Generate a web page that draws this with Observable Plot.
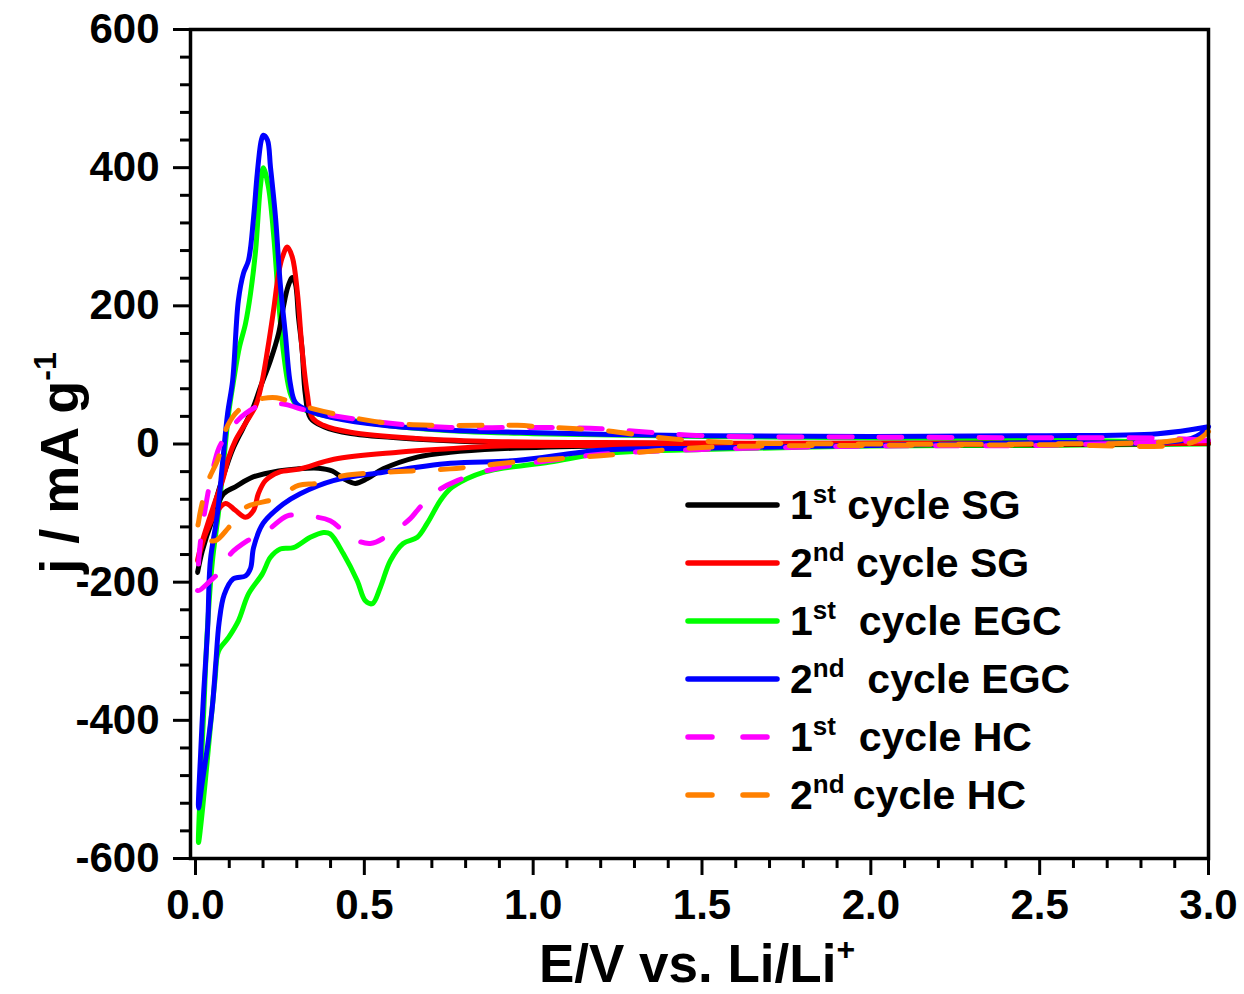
<!DOCTYPE html>
<html><head><meta charset="utf-8">
<script src="https://cdn.jsdelivr.net/npm/d3@7"></script>
<script src="https://cdn.jsdelivr.net/npm/@observablehq/plot@0.6"></script>
<style>
body{margin:0;background:#fff;}
#chart{position:relative;width:1244px;height:994px;font-family:"Liberation Sans",Arial,sans-serif;font-weight:bold;color:#000;}
#legend{position:absolute;left:685px;top:476px;}
.row{height:58px;display:flex;align-items:center;}
.row svg{width:95px;height:10px;margin-right:10px;flex:none;overflow:visible;}
.row .txt{white-space:pre;font-size:41px;line-height:58px;}
.row .sup{font-size:26px;line-height:0;vertical-align:16px;}
</style></head>
<body><div id="chart"></div>
<script>
// Cyclic voltammograms: [E (V vs Li/Li+), j (mA/g)], cathodic sweep 3.0 -> 0, then anodic 0 -> 3.0
const sg1 = [[3.0,1],[2.5,-1],[2.0,-1],[1.5,-2],[1.2,-3],[0.9,-7],[0.754,-12],[0.657,-19],[0.556,-36],[0.509,-50],[0.473,-57],[0.438,-50],[0.405,-39],[0.364,-35],[0.3,-36],[0.246,-39],[0.169,-48],[0.118,-62],[0.083,-72],[0.05,-110],[0.02,-155],[0.006,-186],
  [0.015,-165],[0.03,-135],[0.05,-100],[0.07,-65],[0.09,-35],[0.11,-8],[0.14,22],[0.17,52],[0.192,82],[0.222,121],[0.246,160],[0.26,198],[0.274,228],[0.287,241],[0.296,232],[0.305,184],[0.316,135],[0.325,73],[0.34,38],[0.38,25],[0.46,15],[0.66,7],[0.85,3],[1.2,1],[2.0,1],[2.5,1],[3.0,1]];
const sg2 = [[3.0,1],[2.5,0],[2.0,-1],[1.5,-1],[1.2,-2],[0.9,-3],[0.75,-7],[0.6,-12],[0.41,-22],[0.31,-36],[0.246,-41],[0.207,-53],[0.186,-72],[0.172,-96],[0.148,-106],[0.118,-96],[0.089,-86],[0.06,-100],[0.03,-130],[0.006,-169],
  [0.015,-150],[0.03,-125],[0.059,-82],[0.08,-53],[0.098,-20],[0.118,5],[0.148,30],[0.178,55],[0.195,85],[0.213,135],[0.231,193],[0.246,247],[0.257,270],[0.272,285],[0.287,270],[0.302,218],[0.316,135],[0.331,73],[0.346,38],[0.379,27],[0.459,17],[0.657,8],[0.852,4],[1.2,2],[2.0,1],[2.5,1],[3.0,1]];
const egc1 = [[3.0,0],[2.5,-2],[2.0,-3],[1.5,-8],[1.2,-14],[1.05,-26],[0.9,-36],[0.852,-41],[0.805,-50],[0.754,-65],[0.725,-82],[0.686,-115],[0.657,-135],[0.615,-144],[0.577,-169],[0.547,-208],[0.524,-231],[0.503,-227],[0.479,-198],[0.438,-159],[0.399,-130],[0.379,-128],[0.34,-135],[0.29,-150],[0.251,-152],[0.222,-164],[0.198,-188],[0.157,-217],[0.127,-256],[0.098,-280],[0.068,-300],[0.058,-340],[0.044,-410],[0.03,-483],[0.015,-555],[0.009,-577],
  [0.016,-480],[0.025,-380],[0.035,-270],[0.05,-170],[0.068,-100],[0.083,-28],[0.098,44],[0.113,92],[0.13,140],[0.148,174],[0.163,218],[0.178,280],[0.192,372],[0.201,400],[0.216,372],[0.231,305],[0.246,208],[0.26,135],[0.281,73],[0.3,56],[0.35,45],[0.45,35],[0.6,25],[0.8,18],[1.0,15],[1.5,11],[2.0,9],[2.5,7],[3.0,0]];
const egc2 = [[3.0,25],[2.95,8],[2.5,2],[2.0,-2],[1.5,-6],[1.2,-9],[0.95,-24],[0.755,-28],[0.556,-41],[0.408,-53],[0.31,-72],[0.26,-87],[0.2,-115],[0.172,-150],[0.163,-180],[0.148,-191],[0.112,-195],[0.085,-218],[0.07,-258],[0.06,-318],[0.05,-380],[0.035,-440],[0.02,-490],[0.009,-527],
  [0.016,-440],[0.024,-362],[0.036,-266],[0.044,-169],[0.065,-101],[0.08,-28],[0.095,44],[0.11,92],[0.127,208],[0.142,247],[0.157,266],[0.172,328],[0.183,392],[0.195,440],[0.201,447],[0.213,440],[0.222,401],[0.237,328],[0.251,232],[0.266,160],[0.281,87],[0.296,60],[0.331,49],[0.408,38],[0.556,27],[0.754,20],[0.953,17],[1.2,14],[1.5,12],[2.0,11],[2.5,12],[2.85,15],[3.0,25]];
const hc1 = [[3.0,5],[2.5,-2],[2.0,-3],[1.5,-8],[1.2,-15],[1.05,-24],[0.902,-34],[0.775,-53],[0.704,-72],[0.657,-96],[0.636,-108],[0.577,-130],[0.518,-144],[0.459,-135],[0.399,-111],[0.32,-104],[0.272,-104],[0.213,-125],[0.154,-140],[0.104,-159],[0.08,-180],[0.04,-200],[0.006,-212],
  [0.008,-180],[0.015,-140],[0.03,-90],[0.05,-40],[0.07,-5],[0.095,15],[0.11,26],[0.148,44],[0.192,56],[0.26,58],[0.31,51],[0.408,41],[0.556,31],[0.754,24],[1.0,24],[1.2,22],[1.5,12],[2.0,10],[2.5,9],[2.9,8],[3.0,5]];
const hc2 = [[3.0,18],[2.95,2],[2.5,-1],[2.0,-2],[1.5,-5],[1.2,-17],[0.95,-26],[0.754,-36],[0.556,-41],[0.438,-46],[0.36,-57],[0.305,-60],[0.237,-79],[0.148,-92],[0.098,-121],[0.059,-140],[0.03,-138],[0.006,-135],
  [0.01,-110],[0.02,-85],[0.038,-53],[0.068,-20],[0.089,20],[0.118,44],[0.16,60],[0.2,66],[0.24,67],[0.31,56],[0.408,44],[0.556,31],[0.704,27],[0.852,27],[0.953,27],[1.05,24],[1.2,20],[1.4,8],[1.6,2],[2.0,0],[2.5,0],[2.9,5],[3.0,18]];

const seriesData = [sg1, sg2, egc1, egc2, hc1, hc2];
const seriesColors = ["#000000", "#ff0000", "#00ff00", "#0000ff", "#ff00ff", "#ff8000"];
const seriesDash = [null, null, null, null, "23,27", "23,27"];
const legendOrdinals = ["1", "2", "1", "2", "1", "2"];
const legendSups = ["st", "nd", "st", "nd", "st", "nd"];
const legendRest = [" cycle SG", " cycle SG", "  cycle EGC", "  cycle EGC", "  cycle HC", "\u2009cycle HC"];
const drawOrder = [2, 0, 1, 3, 4, 5];

const xMajorTicks = [0, 0.5, 1.0, 1.5, 2.0, 2.5, 3.0];
const yMajorTicks = [-600, -400, -200, 0, 200, 400, 600];
const xMinorTicks = d3.range(0, 31).map(i => i / 10).filter(v => Math.round(v * 10) % 5 !== 0);
const yMinorTicks = d3.range(-600, 601, 40).filter(v => v % 200 !== 0);

const font = '"Liberation Sans", Arial, sans-serif';

const plot = Plot.plot({
  width: 1244, height: 994,
  marginLeft: 190, marginRight: 36, marginTop: 29, marginBottom: 136,
  style: {fontFamily: font, fontWeight: "bold", background: "#fff", color: "#000"},
  x: {domain: [-0.0148, 3.0]},
  y: {domain: [-600, 600]},
  marks: [
    Plot.axisX({ticks: xMinorTicks, tickSize: 10, strokeWidth: 3, tickFormat: () => "", label: null}),
    Plot.axisX({ticks: xMajorTicks, tickSize: 17, tickPadding: 14, strokeWidth: 3, fontSize: 42, tickFormat: d => d.toFixed(1), label: null}),
    Plot.axisY({ticks: yMinorTicks, tickSize: 10, strokeWidth: 3, tickFormat: () => "", label: null}),
    Plot.axisY({ticks: yMajorTicks, tickSize: 17, tickPadding: 14, strokeWidth: 3, fontSize: 42, tickFormat: d => String(d), label: null}),
    ...drawOrder.map(i => Plot.line(seriesData[i], {
      x: d => d[0], y: d => d[1],
      stroke: seriesColors[i], strokeWidth: 5,
      strokeDasharray: seriesDash[i], strokeLinecap: "round", strokeLinejoin: "round",
      curve: "catmull-rom"
    })),
    Plot.frame({strokeWidth: 3.5})
  ]
});

const svg = d3.select(plot);
const xt = svg.append("text").attr("x", 697).attr("y", 982).attr("text-anchor", "middle")
  .attr("font-size", 53).attr("font-weight", "bold").attr("fill", "#000").attr("font-family", font);
xt.append("tspan").text("E/V vs. Li/Li");
xt.append("tspan").attr("dy", -22).attr("font-size", 32).text("+");

const yt = svg.append("text").attr("transform", "translate(78,463) rotate(-90)").attr("text-anchor", "middle")
  .attr("font-size", 54).attr("font-weight", "bold").attr("fill", "#000").attr("font-family", font);
yt.append("tspan").text("j / mA g");
yt.append("tspan").attr("dy", -22).attr("font-size", 32).text("-1");

const chart = document.getElementById("chart");
chart.appendChild(plot);

const legend = document.createElement("div");
legend.id = "legend";
seriesData.forEach((_, i) => {
  const row = document.createElement("div");
  row.className = "row";
  row.innerHTML = `<svg viewBox="0 0 95 10"><line x1="3" y1="5" x2="92" y2="5" stroke="${seriesColors[i]}" stroke-width="5.5" stroke-linecap="round" ${seriesDash[i] ? 'stroke-dasharray="24,31"' : ''}/></svg>` +
    `<span class="txt">${legendOrdinals[i]}<span class="sup">${legendSups[i]}</span>${legendRest[i]}</span>`;
  legend.appendChild(row);
});
chart.appendChild(legend);
</script>
</body></html>
